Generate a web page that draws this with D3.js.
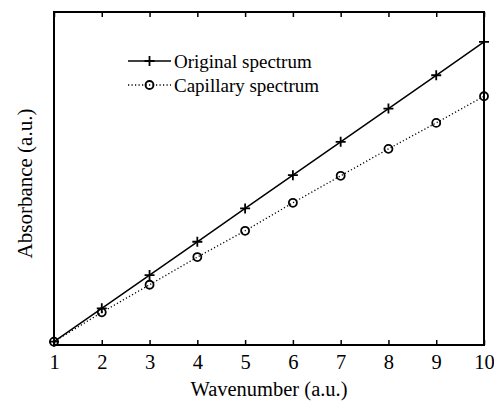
<!DOCTYPE html>
<html>
<head>
<meta charset="utf-8">
<script src="https://cdn.jsdelivr.net/npm/d3@7"></script>
<style>
  body { margin: 0; background: #fff; }
  text { font-family: "Liberation Serif", "Times New Roman", serif; fill: #000; }
</style>
</head>
<body>
<svg id="chart" width="494" height="403"></svg>
<script>
var wavenumbers = [1, 2, 3, 4, 5, 6, 7, 8, 9, 10];
var originalSpectrum = [0, 1.0, 2.0, 3.0, 4.0, 5.0, 6.0, 7.0, 8.0, 9.0];
var capillarySpectrum = [0, 0.88, 1.71, 2.54, 3.33, 4.17, 4.98, 5.79, 6.57, 7.37];
var xTicks = [1, 2, 3, 4, 5, 6, 7, 8, 9, 10];
var seriesNames = ["Original spectrum", "Capillary spectrum"];

var svg = d3.select('#chart');
var box = {left: 54, top: 12, right: 484, bottom: 345};

var x = d3.scaleLinear().domain([1, 10]).range([box.left, box.right]);
var y = d3.scaleLinear().domain([-0.1, 9.9]).range([box.bottom, box.top]);

// bottom axis with inward ticks
var bottomAxis = d3.axisBottom(x).tickValues(xTicks).tickSizeInner(-5).tickSizeOuter(0).tickPadding(9);
var gb = svg.append('g').attr('transform', 'translate(0,' + box.bottom + ')').call(bottomAxis);
gb.select('.domain').remove();
gb.selectAll('line').attr('stroke', '#000').attr('stroke-width', 1.5);
gb.selectAll('text').style('font-size', '20.5px').attr('dy', '0.71em')
	.style('font-family', '"Liberation Serif", serif');

var topAxis = d3.axisTop(x).tickValues(xTicks).tickSizeInner(-5).tickSizeOuter(0).tickFormat('');
var gt = svg.append('g').attr('transform', 'translate(0,' + box.top + ')').call(topAxis);
gt.select('.domain').remove();
gt.selectAll('line').attr('stroke', '#000').attr('stroke-width', 1.5);

svg.append('rect')
	.attr('x', box.left).attr('y', box.top)
	.attr('width', box.right - box.left).attr('height', box.bottom - box.top)
	.attr('fill', 'none').attr('stroke', '#000').attr('stroke-width', 2);

var line = d3.line()
	.x(function(d, i){ return x(wavenumbers[i]); })
	.y(function(d){ return y(d); });

svg.append('path').datum(originalSpectrum)
	.attr('d', line).attr('fill', 'none').attr('stroke', '#000').attr('stroke-width', 1.5);
svg.append('path').datum(capillarySpectrum)
	.attr('d', line).attr('fill', 'none').attr('stroke', '#000').attr('stroke-width', 1.3)
	.attr('stroke-dasharray', '1.2,2.3');

function plus(g, cx, cy){
	g.append('path')
		.attr('d', 'M' + (cx - 5) + ',' + cy + 'H' + (cx + 5) + 'M' + cx + ',' + (cy - 5) + 'V' + (cy + 5))
		.attr('stroke', '#000').attr('stroke-width', 1.8);
}
function ring(g, cx, cy){
	g.append('circle').attr('cx', cx).attr('cy', cy).attr('r', 4)
		.attr('fill', 'none').attr('stroke', '#000').attr('stroke-width', 1.8);
}

var marks = svg.append('g');
originalSpectrum.forEach(function(d, i){ plus(marks, x(wavenumbers[i]), y(d)); });
capillarySpectrum.forEach(function(d, i){ ring(marks, x(wavenumbers[i]), y(d)); });

// legend
var legend = svg.append('g');
var lx0 = 128, lx1 = 171;
[0, 1].forEach(function(i){
	var ly = 61 + i * 24;
	var seg = legend.append('line').attr('x1', lx0).attr('x2', lx1).attr('y1', ly).attr('y2', ly)
		.attr('stroke', '#000').attr('stroke-width', 1.5);
	if (i === 1) seg.attr('stroke-dasharray', '1.2,2.3').attr('stroke-width', 1.3);
	if (i === 0) plus(legend, (lx0 + lx1) / 2, ly); else ring(legend, (lx0 + lx1) / 2, ly);
	legend.append('text').attr('x', 174).attr('y', ly).attr('dy', '0.35em')
		.style('font-size', '19px').text(seriesNames[i]);
});

svg.append('text').attr('x', (box.left + box.right) / 2).attr('y', 396)
	.attr('text-anchor', 'middle').style('font-size', '20.5px').text('Wavenumber (a.u.)');
svg.append('text').attr('transform', 'translate(32,' + ((box.top + box.bottom) / 2 + 5) + ') rotate(-90)')
	.attr('text-anchor', 'middle').style('font-size', '21px').text('Absorbance (a.u.)');
</script>
</body>
</html>
